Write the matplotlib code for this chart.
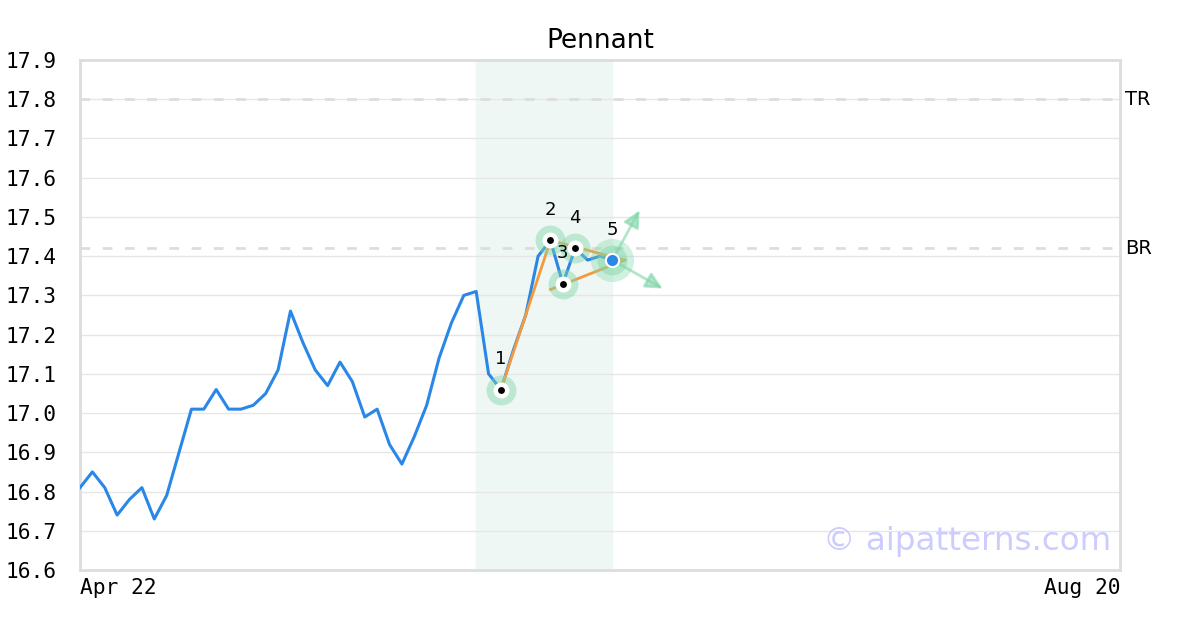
import matplotlib
matplotlib.use("Agg")
import matplotlib.pyplot as plt

# closing prices, one per trading day starting Apr 22
prices = [16.81, 16.85, 16.81, 16.74, 16.78, 16.81, 16.73, 16.79, 16.90, 17.01,
          17.01, 17.06, 17.01, 17.01, 17.02, 17.05, 17.11, 17.26, 17.18, 17.11,
          17.07, 17.13, 17.08, 16.99, 17.01, 16.92, 16.87, 16.94, 17.02, 17.14,
          17.23, 17.30, 17.31, 17.10, 17.06, 17.16, 17.25, 17.40, 17.44, 17.33,
          17.42, 17.39, 17.40, 17.39]
n_days = 84
tick_pos = [0, 84]
tick_labels = ["Apr 22", "Aug 20"]

# pattern pivot points
piv_x = [34, 38, 39, 40, 43]
piv_y = [17.06, 17.44, 17.33, 17.42, 17.39]
piv_labels = ["1", "2", "3", "4", "5"]

# trend lines of the pennant
upper_x = [38, 44]
upper_y = [17.44, 17.39]
lower_x = [38, 44]
lower_y = [17.315, 17.39]

# projected breakout arrows from last pivot
arrow_ends = [(45.3, 17.523), (47.25, 17.314)]

shade_span = (32, 43)
tr_level = 17.8
br_level = 17.42

blue = "#2a87e8"
orange = "#f59a3c"
green = "#7fd6a8"
gray = "#dddddd"

fig = plt.figure(figsize=(12, 6.3), dpi=100)
ax = fig.add_axes([80/1200, 60/630, 1040/1200, 510/630])

ax.axvspan(shade_span[0], shade_span[1], color="#eef7f3", zorder=0)

ax.set_ylim(16.6, 17.9)
ax.set_xlim(0, n_days)
yt = [16.6 + 0.1*i for i in range(14)]
ax.set_yticks(yt)
ax.set_yticklabels(["%.1f" % v for v in yt], family="DejaVu Sans Mono", fontsize=15.3)
ax.yaxis.grid(True, color="#e6e6e6", linewidth=1)
ax.set_axisbelow(True)
ax.tick_params(length=0)
ax.tick_params(axis="y", pad=17)
ax.tick_params(axis="x", pad=6)

ax.set_xticks(tick_pos)
xl = ax.set_xticklabels(tick_labels, family="DejaVu Sans Mono", fontsize=15.3)
xl[0].set_ha("left")
xl[1].set_ha("right")

for s in ax.spines.values():
    s.set_color(gray)
    s.set_linewidth(2)

for lvl, name in [(tr_level, "TR"), (br_level, "BR")]:
    ax.axhline(lvl, color=gray, linewidth=2, dashes=(3.5, 4.5), zorder=1)
    ax.text(n_days + 0.4, lvl, name, fontsize=14, va="center", ha="left")

ax.plot(range(len(prices)), prices, color=blue, linewidth=2.2, zorder=3)

ax.plot([piv_x[0], piv_x[1]], [piv_y[0], piv_y[1]], color=orange, linewidth=2, zorder=4)
ax.plot(upper_x, upper_y, color=orange, linewidth=2, zorder=4)
ax.plot(lower_x, lower_y, color=orange, linewidth=2, zorder=4)

# halos
ax.plot(piv_x, piv_y, "o", markersize=21.5, color=green, alpha=0.45,
        markeredgewidth=0, zorder=5)
ax.plot(piv_x[-1], piv_y[-1], "o", markersize=31, color=green, alpha=0.35,
        markeredgewidth=0, zorder=5)

for ex, ey in arrow_ends:
    ax.annotate("", xy=(ex, ey), xytext=(piv_x[-1], piv_y[-1]),
                arrowprops=dict(arrowstyle="-|>,head_length=1.0,head_width=0.5",
                                color=green, alpha=0.6, linewidth=2),
                zorder=5)

ax.plot(piv_x[:-1], piv_y[:-1], "o", markersize=8.25, color="black",
        markeredgecolor="white", markeredgewidth=3.25, zorder=6)
ax.plot(piv_x[-1], piv_y[-1], "o", markersize=9.5, color=blue,
        markeredgecolor="white", markeredgewidth=1.5, zorder=6)

for x, y, lab in zip(piv_x, piv_y, piv_labels):
    ax.annotate(lab, (x, y), xytext=(0, 22), textcoords="offset points",
                ha="center", va="center", fontsize=13, zorder=7)

ax.text(0.992, 0.055, "\u00a9 aipatterns.com", transform=ax.transAxes,
        ha="right", va="center", fontsize=23.4, color="#ccccff", zorder=7)

ax.set_title("Pennant", fontsize=19, pad=9)

fig.savefig("out.png", dpi=100)
